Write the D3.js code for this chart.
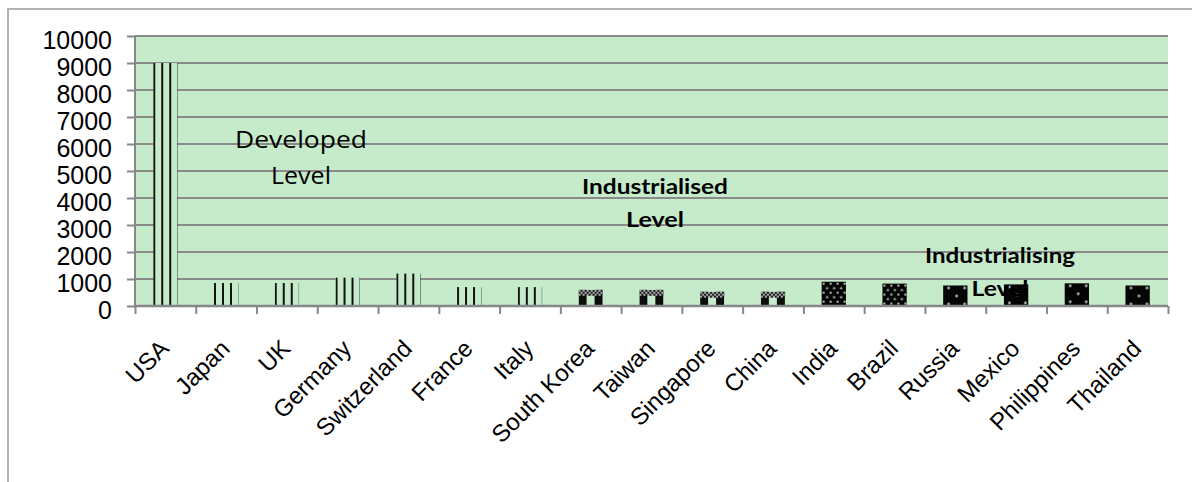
<!DOCTYPE html>
<html>
<head>
<meta charset="utf-8">
<script src="https://cdn.jsdelivr.net/npm/d3@7"></script>
<style>
  body { margin: 0; background: #fff; }
  svg { display: block; }
</style>
</head>
<body>
<div id="chart"></div>
<script>
// category data
var countries = ["USA", "Japan", "UK", "Germany", "Switzerland", "France", "Italy",
  "South Korea", "Taiwan", "Singapore", "China",
  "India", "Brazil", "Russia", "Mexico", "Philippines", "Thailand"];
var values = [9000, 850, 850, 1050, 1200, 700, 700,
  600, 600, 530, 530,
  900, 830, 760, 800, 840, 760];
var levels = ["Developed", "Developed", "Developed", "Developed", "Developed", "Developed", "Developed",
  "Industrialised", "Industrialised", "Industrialised", "Industrialised",
  "Industrialising", "Industrialising", "Industrialising", "Industrialising", "Industrialising", "Industrialising"];
var yTicks = [0, 1000, 2000, 3000, 4000, 5000, 6000, 7000, 8000, 9000, 10000];

var svgWidth = 1192;
var svgHeight = 482;
var plot = { left: 135, right: 1168, top: 36, bottom: 306 };
var green = "#c6ebcb";

var svg = d3.select("#chart")
  .append("svg")
  .attr("width", svgWidth)
  .attr("height", svgHeight);

// outer chart border (runs off the right and bottom of the picture)
svg.append("rect")
  .attr("x", 8).attr("y", 9)
  .attr("width", 1300).attr("height", 600)
  .attr("fill", "#fff")
  .attr("stroke", "#b2b2b2")
  .attr("stroke-width", 2);

// patterns
var defs = svg.append("defs");

var vs = defs.append("pattern").attr("id", "vstripe")
  .attr("patternUnits", "userSpaceOnUse").attr("width", 8).attr("height", 8);
vs.append("rect").attr("width", 8).attr("height", 8).attr("fill", green);
vs.append("rect").attr("width", 2).attr("height", 8).attr("fill", "#111");

var ck = defs.append("pattern").attr("id", "checker")
  .attr("patternUnits", "userSpaceOnUse").attr("width", 4).attr("height", 4);
ck.append("rect").attr("width", 4).attr("height", 4).attr("fill", "#1a1a1a");
ck.append("rect").attr("width", 2).attr("height", 2).attr("fill", "#a9a9a9");
ck.append("rect").attr("x", 2).attr("y", 2).attr("width", 2).attr("height", 2).attr("fill", "#a9a9a9");

var br = defs.append("pattern").attr("id", "brick")
  .attr("patternUnits", "userSpaceOnUse").attr("width", 16).attr("height", 60);
br.append("rect").attr("width", 16).attr("height", 60).attr("fill", green);
br.append("rect").attr("y", 6).attr("width", 8).attr("height", 54).attr("fill", "#0d0d0d");
br.append("rect").attr("width", 16).attr("height", 6).attr("fill", "url(#checker)");

var dd = defs.append("pattern").attr("id", "dotsDense")
  .attr("patternUnits", "userSpaceOnUse").attr("width", 7).attr("height", 9);
dd.append("rect").attr("width", 7).attr("height", 9).attr("fill", "#050505");
dd.append("circle").attr("cx", 2).attr("cy", 2).attr("r", 1.1).attr("fill", "#d8eedb");
dd.append("circle").attr("cx", 5.5).attr("cy", 6.5).attr("r", 1.1).attr("fill", "#d8eedb");

var ds = defs.append("pattern").attr("id", "dotsSparse")
  .attr("patternUnits", "userSpaceOnUse").attr("width", 16).attr("height", 16);
ds.append("rect").attr("width", 16).attr("height", 16).attr("fill", "#050505");
ds.append("circle").attr("cx", 5.5).attr("cy", 2.5).attr("r", 1.2).attr("fill", "#d8eedb");
ds.append("circle").attr("cx", 13.5).attr("cy", 10.5).attr("r", 1.2).attr("fill", "#d8eedb");

var denseDots = ["India", "Brazil"];
function fillFor(i) {
  if (levels[i] === "Developed") return "url(#vstripe)";
  if (levels[i] === "Industrialised") return "url(#brick)";
  return denseDots.indexOf(countries[i]) >= 0 ? "url(#dotsDense)" : "url(#dotsSparse)";
}

// scales
var xBand = d3.scaleBand()
  .domain(countries)
  .range([plot.left, plot.right])
  .paddingInner(0.6)
  .paddingOuter(0.3);

var xSlot = d3.scaleBand()
  .domain(countries)
  .range([plot.left, plot.right]);

var xEdge = d3.scaleLinear()
  .domain([0, countries.length])
  .range([plot.left, plot.right]);

var yLinearScale = d3.scaleLinear()
  .domain([0, 10000])
  .range([plot.bottom, plot.top]);

// plot area
svg.append("rect")
  .attr("x", plot.left).attr("y", plot.top)
  .attr("width", plot.right - plot.left)
  .attr("height", plot.bottom - plot.top)
  .attr("fill", green);

// y axis with gridlines
var leftAxis = d3.axisLeft(yLinearScale)
  .tickValues(yTicks)
  .tickSize(8)
  .tickPadding(15)
  .tickFormat(d3.format("d"));

var yAxisG = svg.append("g")
  .attr("transform", `translate(${plot.left}, 0)`)
  .call(leftAxis);
yAxisG.select(".domain").remove();
yAxisG.selectAll(".tick line").attr("stroke", "#878787").attr("stroke-width", 2);
yAxisG.selectAll(".tick text")
  .attr("dy", "0.5em")
  .attr("font-family", "'Liberation Sans', Arial, sans-serif")
  .attr("font-size", "25px")
  .attr("fill", "#000");

svg.append("g")
  .selectAll("line")
  .data(yTicks.filter(d => d > 0))
  .enter()
  .append("line")
  .attr("x1", plot.left).attr("x2", plot.right)
  .attr("y1", d => yLinearScale(d)).attr("y2", d => yLinearScale(d))
  .attr("stroke", "#8a8a8a")
  .attr("stroke-width", 2);

// bars
var barsGroup = svg.append("g")
  .selectAll("g")
  .data(countries)
  .enter()
  .append("g")
  .attr("transform", (d, i) => `translate(${xBand(d)}, ${yLinearScale(values[i])})`);

barsGroup.append("rect")
  .attr("x", 0).attr("y", 0)
  .attr("width", xBand.bandwidth())
  .attr("height", (d, i) => plot.bottom - yLinearScale(values[i]))
  .attr("fill", (d, i) => fillFor(i));

// axis lines
svg.append("line")
  .attr("x1", plot.left).attr("x2", plot.left)
  .attr("y1", plot.top).attr("y2", plot.bottom)
  .attr("stroke", "#878787").attr("stroke-width", 2);

var bottomAxis = d3.axisBottom(xEdge)
  .tickValues(d3.range(countries.length + 1))
  .tickSize(8)
  .tickFormat("");

var xAxisG = svg.append("g")
  .attr("transform", `translate(0, ${plot.bottom})`)
  .call(bottomAxis);
xAxisG.select(".domain").attr("stroke", "#878787").attr("stroke-width", 2.5).attr("d", `M${plot.left},0H${plot.right}`);
xAxisG.selectAll(".tick line").attr("stroke", "#878787").attr("stroke-width", 2);

// rotated category labels
svg.append("g")
  .selectAll("text")
  .data(countries)
  .enter()
  .append("text")
  .attr("transform", d => `translate(${xSlot(d) + xSlot.bandwidth() / 2 + 5}, ${plot.bottom + 44}) rotate(-45)`)
  .attr("text-anchor", "end")
  .attr("font-family", "'Liberation Sans', Arial, sans-serif")
  .attr("font-size", "24px")
  .attr("fill", "#000")
  .text(d => d);

// level annotations
var notes = [
  { lines: ["Developed", "Level"], x: 301, y: [148, 184], w: [132, 60], bold: false, size: 23 },
  { lines: ["Industrialised", "Level"], x: 655, y: [194, 227], w: [146, 58], bold: true, size: 21 },
  { lines: ["Industrialising", "Level"], x: 1000, y: [263, 296], w: [150, 57], bold: true, size: 21 }
];
notes.forEach(function(n) {
  n.lines.forEach(function(line, k) {
    svg.append("text")
      .attr("x", n.x)
      .attr("y", n.y[k])
      .attr("text-anchor", "middle")
      .attr("font-family", n.bold ? "Lato, 'Open Sans', sans-serif" : "'Open Sans', 'Noto Sans', sans-serif")
      .attr("font-weight", n.bold ? "bold" : "normal")
      .attr("font-size", n.size + "px")
      .attr("textLength", n.w[k])
      .attr("lengthAdjust", "spacingAndGlyphs")
      .attr("fill", "#000")
      .text(line);
  });
});
</script>
</body>
</html>
